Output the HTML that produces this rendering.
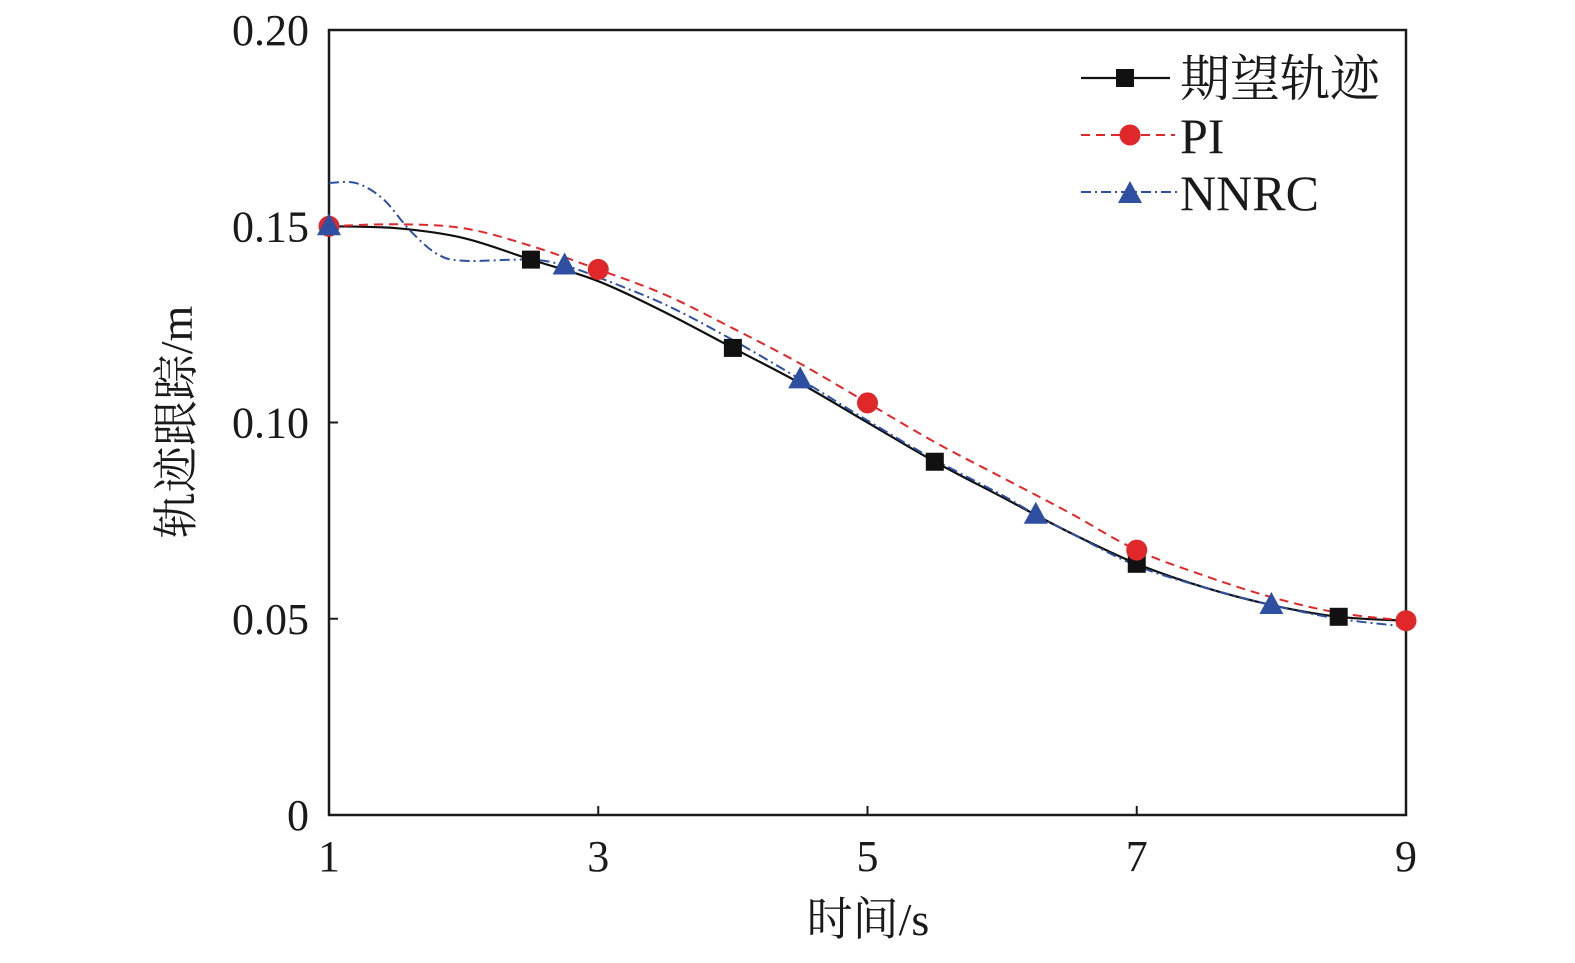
<!DOCTYPE html>
<html><head><meta charset="utf-8"><style>
body{margin:0;background:#fff}
svg text{font-family:"Liberation Serif","Noto Serif CJK SC",serif;fill:#1a1a1a}
</style></head><body>
<svg width="1575" height="958" xmlns="http://www.w3.org/2000/svg">
<g id="plot"></g>
</svg>
<script>
const xTicks=[1,3,5,7,9];
const yTicks=[0,0.05,0.10,0.15,0.20];
const yTickLabels=["0","0.05","0.10","0.15","0.20"];
const desiredX=[1,1.5,2,2.5,3,3.5,4,4.5,5,5.5,6,6.5,7,7.5,8,8.5,9];
const desiredY=[0.150,0.1495,0.147,0.1415,0.136,0.128,0.119,0.110,0.100,0.090,0.081,0.072,0.064,0.058,0.0535,0.0505,0.0495];
const desiredMarkers=[2.5,4,5.5,7,8.5];
const piX=[1,1.5,2,2.5,3,3.5,4,4.5,5,5.5,6,6.5,7,7.5,8,8.5,9];
const piY=[0.150,0.1505,0.1495,0.145,0.139,0.1325,0.124,0.115,0.105,0.095,0.086,0.077,0.0675,0.061,0.0555,0.0515,0.0495];
const piMarkers=[1,3,5,7,9];
const nnX=[1,1.2,1.4,1.6,1.8,2,2.5,2.75,3,3.5,4,4.5,5,5.5,6,6.25,6.5,7,7.5,8,8.5,9];
const nnY=[0.161,0.161,0.157,0.149,0.143,0.1412,0.1415,0.140,0.137,0.130,0.121,0.111,0.1005,0.0905,0.0815,0.0765,0.072,0.0635,0.058,0.0535,0.050,0.048];
const nnMarkers=[1,2.75,4.5,6.25,8];
const nnMarkerY=[0.150,0.140,0.111,0.0765,0.0535];

const X0=329,X1=1406,Y0=815,Y1=30;
const px=x=>X0+(x-1)/8*(X1-X0);
const py=y=>Y0-y/0.2*(Y0-Y1);
const NS="http://www.w3.org/2000/svg";
const g=document.getElementById('plot');
function mk(t,a){const e=document.createElementNS(NS,t);for(const k in a)e.setAttribute(k,a[k]);g.appendChild(e);return e;}
function interp(xs,ys,x){for(let i=0;i<xs.length-1;i++){if(x<=xs[i+1]){const t=(x-xs[i])/(xs[i+1]-xs[i]);return ys[i]+t*(ys[i+1]-ys[i]);}}return ys[ys.length-1];}
function pathD(xs,ys){
 const p=xs.map((x,i)=>[px(x),py(ys[i])]);
 let d=`M${p[0][0]},${p[0][1]}`;
 for(let i=0;i<p.length-1;i++){
  const p0=p[Math.max(0,i-1)],p1=p[i],p2=p[i+1],p3=p[Math.min(p.length-1,i+2)];
  const c1=[p1[0]+(p2[0]-p0[0])/6,p1[1]+(p2[1]-p0[1])/6];
  const c2=[p2[0]-(p3[0]-p1[0])/6,p2[1]-(p3[1]-p1[1])/6];
  d+=` C${c1[0]},${c1[1]} ${c2[0]},${c2[1]} ${p2[0]},${p2[1]}`;
 }
 return d;
}
let e=mk('rect',{x:X0,y:Y1,width:X1-X0,height:Y0-Y1,fill:'none',stroke:'#1a1a1a','stroke-width':2.5});


xTicks.forEach(v=>{
 let t=mk('line',{x1:px(v),x2:px(v),y1:Y0,y2:Y0-9,stroke:'#1a1a1a','stroke-width':2});
 
 
 let l=mk('text',{x:px(v),y:Y0+56,'font-size':44,'text-anchor':'middle'});l.textContent=v;
 
 
});
yTicks.forEach((v,i)=>{
 let t=mk('line',{x1:X0,x2:X0+9,y1:py(v),y2:py(v),stroke:'#1a1a1a','stroke-width':2});
 
 
 let l=mk('text',{x:X0-20,y:py(v)+15,'font-size':44,'text-anchor':'end'});l.textContent=yTickLabels[i];
 
 
});
let xl=mk('text',{x:868,y:935,'font-size':46,'text-anchor':'middle'});xl.textContent='时间/s';


let yl=mk('text',{x:0,y:0,'font-size':46,'text-anchor':'middle',transform:'translate(192,422) rotate(-90)'});yl.textContent='轨迹跟踪/m';



function square(cx,cy,name){let m=mk('rect',{x:cx-9,y:cy-9,width:18,height:18,fill:'#111'});}
function circle(cx,cy,name){let m=mk('circle',{cx:cx,cy:cy,r:10.5,fill:'#e0272a'});}
function tri(cx,cy,name){let m=mk('polygon',{points:`${cx},${cy-13} ${cx-12},${cy+9} ${cx+12},${cy+9}`,fill:'#2f4fa0'});}

let s1=mk('path',{d:pathD(desiredX,desiredY),fill:'none',stroke:'#111','stroke-width':2.2});


let s2=mk('path',{d:pathD(piX,piY),fill:'none',stroke:'#e0272a','stroke-width':2,'stroke-dasharray':'9,6'});


let s3=mk('path',{d:pathD(nnX,nnY),fill:'none',stroke:'#2f4fa0','stroke-width':2,'stroke-dasharray':'10,4,2,4'});


desiredMarkers.forEach(x=>square(px(x),py(interp(desiredX,desiredY,x)),'desired-marker'));
piMarkers.forEach(x=>circle(px(x),py(interp(piX,piY,x)),'pi-marker'));
nnMarkers.forEach((x,i)=>tri(px(x),py(nnMarkerY[i]),'nnrc-marker'));

const legY=[78,135,192];
const names=['期望轨迹','PI','NNRC'];
let a=mk('line',{x1:1081,x2:1170,y1:legY[0],y2:legY[0],stroke:'#111','stroke-width':2.2});
square(1125,legY[0],'legend-marker-desired');
let b=mk('line',{x1:1081,x2:1175,y1:legY[1],y2:legY[1],stroke:'#e0272a','stroke-width':2,'stroke-dasharray':'9,6'});
circle(1130,legY[1],'legend-marker-pi');
let c=mk('line',{x1:1081,x2:1180,y1:legY[2],y2:legY[2],stroke:'#2f4fa0','stroke-width':2,'stroke-dasharray':'10,4,2,4'});
tri(1130,legY[2]+2,'legend-marker-nnrc');
names.forEach((n,i)=>{let t=mk('text',{x:1180,y:legY[i]+18,'font-size':50});t.textContent=n;});
</script>
</body></html>
